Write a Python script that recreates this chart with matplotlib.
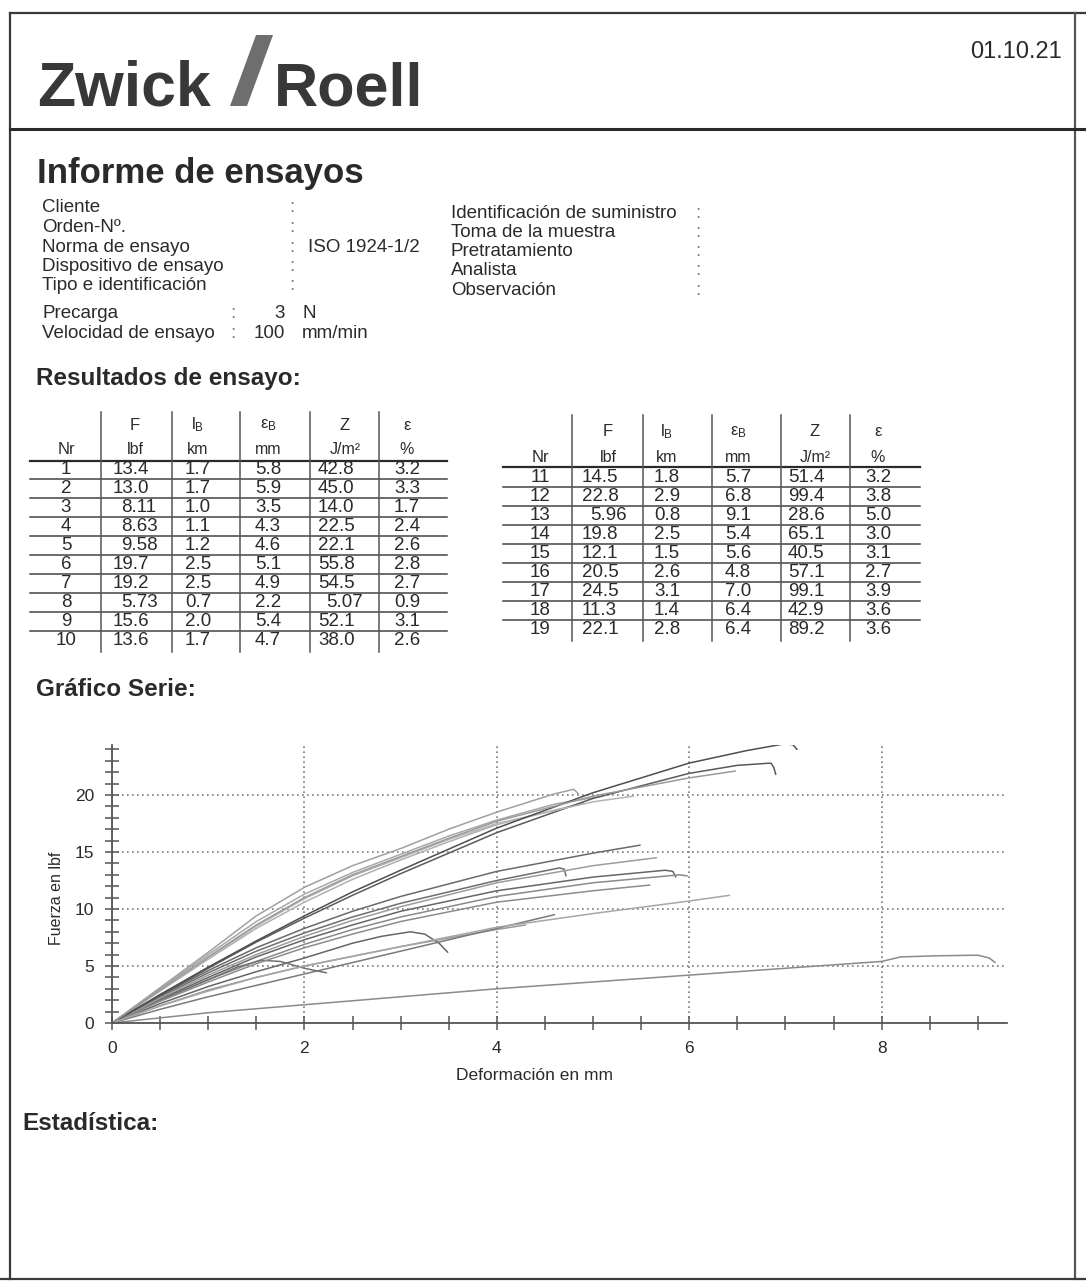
"""Zwick/Roell test report page: header, results tables and force-deformation series."""

import matplotlib

matplotlib.use("Agg")

import matplotlib.pyplot as plt
from matplotlib.patches import Polygon
from matplotlib.ticker import MultipleLocator

plt.rcParams["font.family"] = ["Liberation Sans", "DejaVu Sans"]
plt.rcParams["mathtext.fontset"] = "custom"
plt.rcParams["mathtext.rm"] = "Liberation Sans"
plt.rcParams["mathtext.it"] = "Liberation Sans"

W, H = 1086, 1287
INK = "#2a2a2a"

# ---- report header data
REPORT_DATE = "01.10.21"
INFO_LEFT = ["Cliente", "Orden-Nº.", "Norma de ensayo", "Dispositivo de ensayo", "Tipo e identificación"]
INFO_LEFT_VAL = ["", "", "ISO 1924-1/2", "", ""]
INFO_RIGHT = ["Identificación de suministro", "Toma de la muestra", "Pretratamiento", "Analista", "Observación"]
PARAM_NAMES = ["Precarga", "Velocidad de ensayo"]
PARAM_VALUES = ["3", "100"]
PARAM_UNITS = ["N", "mm/min"]

# ---- results table
nr = [str(i) for i in range(1, 20)]
force_lbf = ["13.4", "13.0", "8.11", "8.63", "9.58", "19.7", "19.2", "5.73", "15.6", "13.6",
             "14.5", "22.8", "5.96", "19.8", "12.1", "20.5", "24.5", "11.3", "22.1"]
breaking_len_km = ["1.7", "1.7", "1.0", "1.1", "1.2", "2.5", "2.5", "0.7", "2.0", "1.7",
                   "1.8", "2.9", "0.8", "2.5", "1.5", "2.6", "3.1", "1.4", "2.8"]
elong_mm = ["5.8", "5.9", "3.5", "4.3", "4.6", "5.1", "4.9", "2.2", "5.4", "4.7",
            "5.7", "6.8", "9.1", "5.4", "5.6", "4.8", "7.0", "6.4", "6.4"]
energy_jm2 = ["42.8", "45.0", "14.0", "22.5", "22.1", "55.8", "54.5", "5.07", "52.1", "38.0",
              "51.4", "99.4", "28.6", "65.1", "40.5", "57.1", "99.1", "42.9", "89.2"]
strain_pct = ["3.2", "3.3", "1.7", "2.4", "2.6", "2.8", "2.7", "0.9", "3.1", "2.6",
              "3.2", "3.8", "5.0", "3.0", "3.1", "2.7", "3.9", "3.6", "3.6"]
head_sym = ["F", "l$_\\mathrm{B}$", "ε$_\\mathrm{B}$", "Z", "ε"]
head_unit = ["lbf", "km", "mm", "J/m²", "%"]

# ---- force (lbf) vs deformation (mm) curves
curve_01 = [(0, 0), (0.5, 2.1), (1, 4.0), (1.5, 5.8), (2, 7.3), (2.5, 8.6), (3, 9.8), (4, 11.6), (5, 12.8), (5.75, 13.4), (5.83, 13.3), (5.86, 12.8)]
curve_02 = [(0, 0), (0.5, 2.0), (1, 3.8), (1.5, 5.4), (2, 6.9), (2.5, 8.2), (3, 9.3), (4, 11.1), (5, 12.3), (5.9, 13.0), (5.98, 12.9)]
curve_03 = [(0, 0), (0.5, 1.7), (1, 3.2), (1.5, 4.5), (2, 5.7), (2.5, 7.0), (2.8, 7.6), (3.1, 8.0), (3.25, 7.8), (3.4, 7.0), (3.49, 6.2)]
curve_04 = [(0, 0), (0.5, 1.5), (1, 2.9), (1.5, 4.0), (2, 5.0), (3, 6.7), (4, 8.2), (4.3, 8.6)]
curve_05 = [(0, 0), (0.5, 1.2), (1, 2.3), (2, 4.3), (3, 6.3), (4, 8.3), (4.6, 9.5)]
curve_06 = [(0, 0), (0.5, 3.0), (1, 6.0), (1.5, 8.9), (2, 11.3), (2.5, 13.2), (3, 14.8), (3.5, 16.4), (4, 17.8), (4.6, 19.2), (5.1, 19.9)]
curve_07 = [(0, 0), (0.5, 2.8), (1, 5.6), (1.5, 8.3), (2, 10.6), (2.5, 12.6), (3, 14.3), (3.5, 15.9), (4, 17.4), (4.9, 19.3)]
curve_08 = [(0, 0), (0.5, 2.0), (1, 3.8), (1.3, 4.9), (1.55, 5.5), (1.75, 5.4), (2.0, 4.8), (2.23, 4.4)]
curve_09 = [(0, 0), (0.5, 2.4), (1, 4.6), (1.5, 6.6), (2, 8.3), (2.5, 9.8), (3, 11.1), (4, 13.3), (5, 14.9), (5.49, 15.6)]
curve_10 = [(0, 0), (0.5, 2.3), (1, 4.4), (1.5, 6.3), (2, 7.9), (2.5, 9.3), (3, 10.5), (4, 12.5), (4.65, 13.6), (4.70, 13.5), (4.72, 12.9)]
curve_11 = [(0, 0), (0.5, 2.2), (1, 4.2), (1.5, 6.0), (2, 7.6), (2.5, 9.0), (3, 10.2), (4, 12.3), (5, 13.8), (5.66, 14.5)]
curve_12 = [(0, 0), (0.5, 2.4), (1, 4.8), (1.5, 7.1), (2, 9.2), (2.5, 11.2), (3, 13.1), (4, 16.7), (5, 19.7), (6, 21.9), (6.5, 22.6), (6.85, 22.8), (6.88, 22.4), (6.9, 21.8)]
curve_13 = [(0, 0), (1, 0.9), (2, 1.6), (3, 2.3), (4, 3.0), (5, 3.6), (6, 4.2), (7, 4.8), (8, 5.4), (8.2, 5.8), (8.6, 5.9), (9.0, 5.95), (9.12, 5.7), (9.18, 5.3)]
curve_14 = [(0, 0), (0.5, 2.9), (1, 5.7), (1.5, 8.5), (2, 10.9), (2.5, 12.9), (3, 14.5), (3.5, 16.1), (4, 17.5), (5, 19.4), (5.42, 19.9)]
curve_15 = [(0, 0), (0.5, 1.9), (1, 3.6), (1.5, 5.2), (2, 6.6), (2.5, 7.8), (3, 8.9), (4, 10.6), (5, 11.6), (5.59, 12.1)]
curve_16 = [(0, 0), (0.5, 3.1), (1, 6.2), (1.5, 9.4), (2, 11.9), (2.5, 13.8), (3, 15.3), (3.5, 17.0), (4, 18.5), (4.6, 20.1), (4.8, 20.5), (4.85, 20.1)]
curve_17 = [(0, 0), (0.5, 2.5), (1, 4.9), (1.5, 7.2), (2, 9.4), (2.5, 11.5), (3, 13.4), (4, 17.1), (5, 20.2), (6, 22.8), (6.6, 23.9), (7.0, 24.5), (7.08, 24.4), (7.12, 24.0)]
curve_18 = [(0, 0), (0.5, 1.5), (1, 2.8), (1.5, 4.0), (2, 5.0), (3, 6.7), (4, 8.4), (5, 9.6), (6, 10.7), (6.42, 11.2)]
curve_19 = [(0, 0), (0.5, 2.9), (1, 5.8), (1.5, 8.6), (2, 11.0), (2.5, 13.0), (3, 14.6), (3.5, 16.2), (4, 17.7), (5, 19.9), (6, 21.5), (6.48, 22.1)]

curves = [curve_01, curve_02, curve_03, curve_04, curve_05, curve_06, curve_07, curve_08, curve_09, curve_10,
          curve_11, curve_12, curve_13, curve_14, curve_15, curve_16, curve_17, curve_18, curve_19]
shades = ["#666666", "#8a8a8a", "#666666", "#9a9a9a", "#7a7a7a", "#a8a8a8", "#b0b0b0", "#707070", "#6a6a6a", "#6e6e6e",
          "#9c9c9c", "#5a5a5a", "#8a8a8a", "#b4b4b4", "#8c8c8c", "#a0a0a0", "#4e4e4e", "#a6a6a6", "#9a9a9a"]


def draw_table(ax, rows, x_left, x_right, seps, col_x, col_align, y_top, y_h1, y_h2, y_line, y0, dy):
    ax.plot([x_left, x_right], [y_line, y_line], color=INK, lw=1.6)
    for i in range(len(rows) - 1):
        y = y0 + i * dy + dy / 2
        ax.plot([x_left, x_right], [y, y], color="#444444", lw=1.1)
    y_bot = y0 + (len(rows) - 1) * dy + dy / 2 + 2
    for xs in seps:
        ax.plot([xs, xs], [y_top, y_bot], color="#555555", lw=1.1)
    ax.text(col_x[0], y_h2, "Nr", ha="center", va="center", fontsize=12, color=INK)
    for k in range(5):
        ax.text(col_x["head"][k], y_h1, head_sym[k], ha="center", va="center", fontsize=12, color=INK)
        ax.text(col_x["head"][k], y_h2, head_unit[k], ha="center", va="center", fontsize=11.5, color=INK)
    for i, idx in enumerate(rows):
        y = y0 + i * dy
        vals = [nr[idx], force_lbf[idx], breaking_len_km[idx], elong_mm[idx], energy_jm2[idx], strain_pct[idx]]
        for k, v in enumerate(vals):
            x = col_x[k]
            if col_align[k] == "left" and float(v) < 10:
                x += 8
            ax.text(x, y, v, ha=col_align[k], va="center", fontsize=13.5, color=INK)


def main() -> None:
    fig = plt.figure(figsize=(W / 100, H / 100), dpi=100)
    page = fig.add_axes([0, 0, 1, 1])
    page.set_xlim(0, W)
    page.set_ylim(H, 0)
    page.axis("off")

    # page frame and header rule
    page.plot([10, W], [13, 13], color="#3a3a3a", lw=1.6)
    page.plot([10, 10], [13, 1279], color="#3a3a3a", lw=1.6)
    page.plot([1075, 1075], [13, 1279], color="#555555", lw=1.6)
    page.plot([0, W], [1279, 1279], color="#3a3a3a", lw=1.6)
    page.plot([10, W], [129, 129], color="#2a2a2a", lw=2.2)

    # logo and date
    page.text(37, 105, "Zwick", fontsize=45, fontweight="bold", color="#383838", va="baseline")
    page.add_patch(Polygon([(230, 106), (247, 106), (273, 35), (256, 35)], closed=True,
                           facecolor="#6e6e6e", edgecolor="none"))
    page.text(274, 105, "Roell", fontsize=44, fontweight="bold", color="#383838", va="baseline")
    page.text(1062, 52, REPORT_DATE, fontsize=17, color=INK, ha="right", va="center")

    page.text(37, 183, "Informe de ensayos", fontsize=25, fontweight="bold", color=INK, va="baseline")
    fs = 13.5
    for i, label in enumerate(INFO_LEFT):
        y = 208 + i * 19.5
        page.text(42, y, label, fontsize=fs, color=INK, va="center")
        page.text(289, y, ":", fontsize=fs, color="#777777", va="center")
        page.text(308, y, INFO_LEFT_VAL[i], fontsize=fs, color=INK, va="center")
    for i, label in enumerate(INFO_RIGHT):
        y = 213 + i * 19.3
        page.text(451, y, label, fontsize=fs, color=INK, va="center")
        page.text(695, y, ":", fontsize=fs, color="#777777", va="center")
    for i, label in enumerate(PARAM_NAMES):
        y = 314 + i * 19.5
        page.text(42, y, label, fontsize=fs, color=INK, va="center")
        page.text(230, y, ":", fontsize=fs, color="#777777", va="center")
        page.text(285, y, PARAM_VALUES[i], fontsize=fs, color=INK, va="center", ha="right")
        page.text(302, y, PARAM_UNITS[i], fontsize=fs, color=INK, va="center")

    page.text(36, 378, "Resultados de ensayo:", fontsize=17.5, fontweight="bold", color=INK, va="center")
    page.text(36, 690, "Gráfico Serie:", fontsize=17.5, fontweight="bold", color=INK, va="center")
    page.text(22, 1123, "Estadística:", fontsize=17.5, fontweight="bold", color=INK, va="center")

    left_cols = {0: 66, 1: 113, 2: 198, 3: 268, 4: 318, 5: 407, "head": [135, 198, 268, 345, 407]}
    right_cols = {0: 540, 1: 582, 2: 667, 3: 738, 4: 788, 5: 878, "head": [608, 667, 738, 815, 878]}
    aligns = ["center", "left", "center", "center", "left", "center"]
    draw_table(page, list(range(0, 10)), 30, 447, [101, 172, 240, 310, 379], left_cols, aligns,
               412, 425, 450, 461, 469, 19.1)
    draw_table(page, list(range(10, 19)), 503, 920, [572, 643, 712, 781, 850], right_cols, aligns,
               415, 432, 458, 467, 477, 19.1)

    # force-deformation chart
    x0, x1, y0, y1 = 112, 1007, 1023, 745
    ax = fig.add_axes([x0 / W, (H - y0) / H, (x1 - x0) / W, (y0 - y1) / H])
    ax.set_facecolor("none")
    for pts, shade in zip(curves, shades):
        xs = [p[0] for p in pts]
        ys = [p[1] for p in pts]
        ax.plot(xs, ys, color=shade, lw=1.1, solid_capstyle="round", solid_joinstyle="round")
    ax.set_xlim(0, (x1 - x0) / 96.2)
    ax.set_ylim(0, (y0 - y1) / 11.4)
    ax.xaxis.set_major_locator(MultipleLocator(2))
    ax.xaxis.set_minor_locator(MultipleLocator(0.5))
    ax.yaxis.set_major_locator(MultipleLocator(5))
    ax.yaxis.set_minor_locator(MultipleLocator(1))
    ax.set_yticks([0, 5, 10, 15, 20])
    ax.grid(which="major", color="#7a7a7a", lw=1.2, linestyle=(0, (1, 2)))
    for side in ("top", "right"):
        ax.spines[side].set_visible(False)
    for side in ("left", "bottom"):
        ax.spines[side].set_color("#555555")
        ax.spines[side].set_linewidth(1.3)
    ax.tick_params(which="both", direction="inout", color="#555555", width=1.1, labelsize=12.5,
                   labelcolor=INK)
    ax.tick_params(axis="y", which="both", length=10, pad=8)
    ax.tick_params(axis="x", which="both", length=10, pad=8)
    ax.set_xlabel("Deformación en mm", fontsize=12.5, color=INK)
    ax.set_ylabel("Fuerza en lbf", fontsize=11.5, color=INK)
    ax.xaxis.set_label_coords((534 - x0) / (x1 - x0), -(1075 - y0) / (y0 - y1), transform=ax.transAxes)
    ax.yaxis.set_label_coords(-(x0 - 56) / (x1 - x0), (y0 - 898) / (y0 - y1), transform=ax.transAxes)
    ax.xaxis.label.set_va("center")
    ax.yaxis.label.set_va("center")

    fig.savefig("out.png", dpi=100, facecolor="white")
    plt.close(fig)


if __name__ == "__main__":
    main()
